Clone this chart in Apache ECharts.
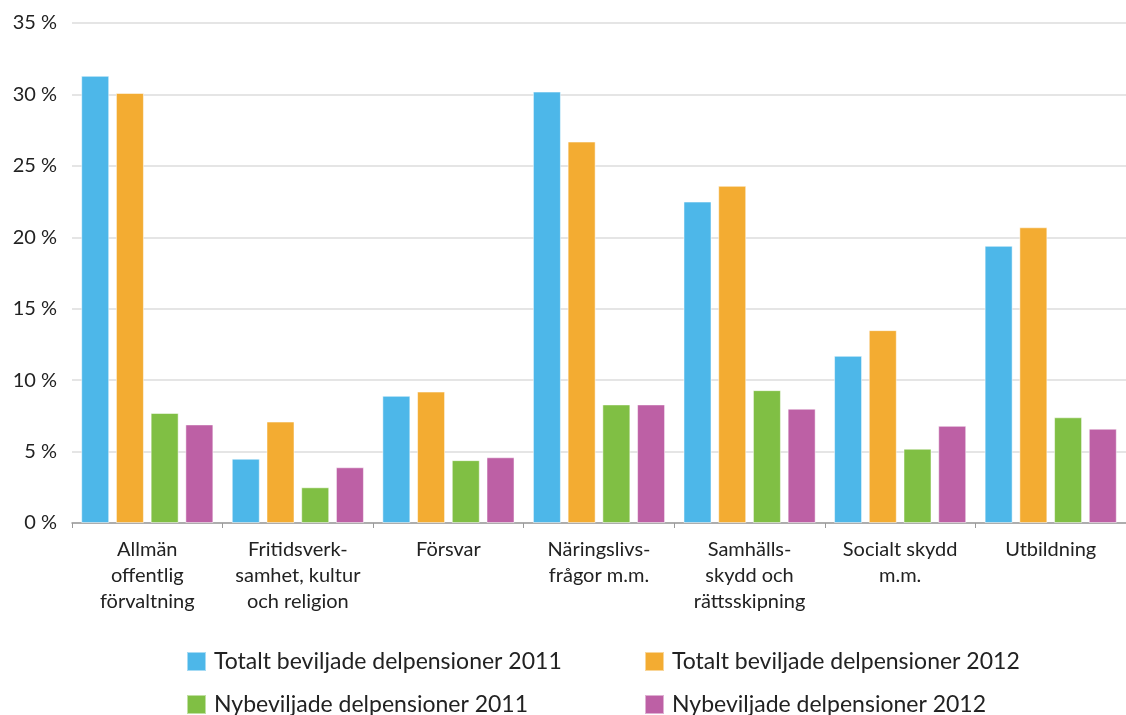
<!DOCTYPE html>
<html>
<head>
<meta charset="utf-8">
<script src="https://cdn.jsdelivr.net/npm/echarts@6/dist/echarts.min.js"></script>
<style>
  html, body { margin: 0; padding: 0; background: #fff; }
  #chart { width: 1126px; height: 715px; }
</style>
</head>
<body>
<div id="chart"></div>
<script>
// kategorier (x-axel)
var categories = [
  "Allmän\noffentlig\nförvaltning",
  "Fritidsverk-\nsamhet, kultur\noch religion",
  "Försvar",
  "Näringslivs-\nfrågor m.m.",
  "Samhälls-\nskydd och\nrättsskipning",
  "Socialt skydd\nm.m.",
  "Utbildning"
];
var seriesNames = [
  "Totalt beviljade delpensioner 2011",
  "Totalt beviljade delpensioner 2012",
  "Nybeviljade delpensioner 2011",
  "Nybeviljade delpensioner 2012"
];
var totalt2011 = [31.3, 4.5, 8.9, 30.2, 22.5, 11.7, 19.4];
var totalt2012 = [30.1, 7.1, 9.2, 26.7, 23.6, 13.5, 20.7];
var ny2011 = [7.7, 2.5, 4.4, 8.3, 9.3, 5.2, 7.4];
var ny2012 = [6.9, 3.9, 4.6, 8.3, 8.0, 6.8, 6.6];
var yTicks = [0, 5, 10, 15, 20, 25, 30, 35];

var colors = ["#4db7e9", "#f3ac32", "#80bf44", "#bd60a5"];
var font = "Lato, 'Open Sans', sans-serif";

var chart = echarts.init(document.getElementById("chart"));

function bar(name, data, color) {
  return {
    type: "bar",
    name: name,
    data: data,
    barWidth: 28,
    barGap: "24%",
    itemStyle: { color: color, borderColor: "rgba(255,255,255,0.5)", borderWidth: 1 }
  };
}

// en legend per post, två kolumner x två rader
function legendItem(left, top, name) {
  return {
    left: left, top: top,
    padding: 0,
    itemWidth: 19, itemHeight: 19,
    icon: "rect",
    data: [name],
    textStyle: { fontSize: 23, color: "#222", fontFamily: font, padding: [0, 0, 0, 3] }
  };
}

var option = {
  animation: false,
  textStyle: { fontFamily: font },
  grid: { left: 72, top: 23, width: 1063, height: 500 },
  legend: [
    legendItem(186, 650, seriesNames[0]),
    legendItem(644, 650, seriesNames[1]),
    legendItem(186, 693, seriesNames[2]),
    legendItem(644, 693, seriesNames[3])
  ],
  xAxis: {
    type: "category",
    data: categories,
    axisLine: { lineStyle: { color: "#9a9a9a", width: 1.5 } },
    axisTick: { show: true, length: 5, lineStyle: { color: "#9a9a9a" } },
    axisLabel: {
      color: "#222", fontSize: 20, lineHeight: 26, margin: 14,
      interval: 0, fontFamily: font
    }
  },
  yAxis: {
    type: "value",
    min: yTicks[0],
    max: yTicks[yTicks.length - 1],
    interval: 5,
    axisLine: { show: false },
    axisTick: { show: false },
    splitLine: { lineStyle: { color: "#dcdcdc", width: 1.5 } },
    axisLabel: {
      color: "#222", fontSize: 20, margin: 15, fontFamily: font,
      formatter: function (v) { return v + " %"; }
    }
  },
  series: [
    bar(seriesNames[0], totalt2011, colors[0]),
    bar(seriesNames[1], totalt2012, colors[1]),
    bar(seriesNames[2], ny2011, colors[2]),
    bar(seriesNames[3], ny2012, colors[3])
  ]
};

chart.setOption(option);
</script>
</body>
</html>
